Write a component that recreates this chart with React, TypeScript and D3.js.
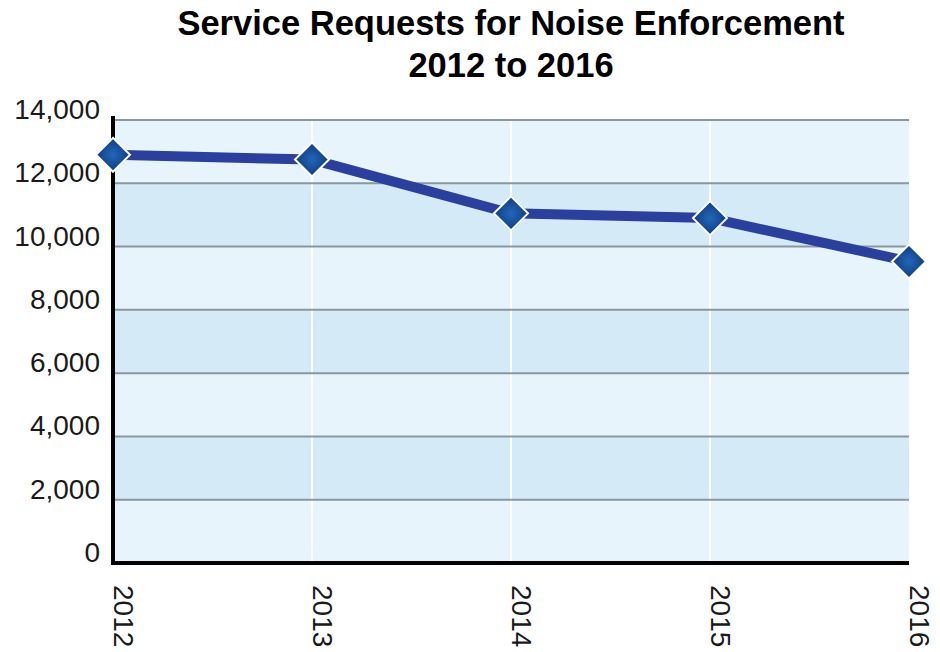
import React, { useEffect, useRef } from 'react';
import * as d3 from 'd3';

const years = ['2012', '2013', '2014', '2015', '2016'];
const requests = [12900, 12750, 11050, 10900, 9530];
const yTicks = [0, 2000, 4000, 6000, 8000, 10000, 12000, 14000];
const titleLines = ['Service Requests for Noise Enforcement', '2012 to 2016'];

const App = () => {
    const svgRef = useRef(null);

    useEffect(() => {
        const svg = d3.select(svgRef.current);
        svg.selectAll('*').remove();

        const width = 940;
        const height = 652;
        const margin = { top: 120, right: 31, bottom: 89, left: 113 };
        const innerWidth = width - margin.left - margin.right;
        const innerHeight = height - margin.top - margin.bottom;
        const font = 'Liberation Sans, Arial, Helvetica, sans-serif';

        const xScale = d3.scalePoint().domain(years).range([0, innerWidth]);
        const yScale = d3.scaleLinear().domain([0, 14000]).range([innerHeight, 0]);

        // 마커 그라데이션
        const defs = svg.append('defs');
        const grad = defs.append('radialGradient').attr('id', 'diamondFill')
            .attr('cx', '50%').attr('cy', '50%').attr('r', '60%');
        grad.append('stop').attr('offset', '0%').attr('stop-color', '#2166b8');
        grad.append('stop').attr('offset', '100%').attr('stop-color', '#0c3578');

        // title
        svg.append('g').selectAll('text')
            .data(titleLines)
            .join('text')
            .attr('x', 511)
            .attr('y', (_, i) => 35 + i * 42)
            .attr('text-anchor', 'middle')
            .attr('font-family', font)
            .attr('font-weight', 'bold')
            .attr('font-size', 34.5)
            .attr('fill', '#000')
            .text(d => d);

        const g = svg.append('g').attr('transform', `translate(${margin.left},${margin.top})`);

        // bands
        const bands = yTicks.slice(0, -1).map((t, i) => [t, yTicks[i + 1]]);
        g.append('g').selectAll('rect')
            .data(bands)
            .join('rect')
            .attr('x', 0)
            .attr('width', innerWidth)
            .attr('y', d => yScale(d[1]))
            .attr('height', d => yScale(d[0]) - yScale(d[1]))
            .attr('fill', (_, i) => (i % 2 === 0 ? '#e7f4fb' : '#d4eaf6'));

        // vertical white lines
        g.append('g').selectAll('line')
            .data(years.slice(1, -1))
            .join('line')
            .attr('x1', d => xScale(d)).attr('x2', d => xScale(d))
            .attr('y1', 0).attr('y2', innerHeight)
            .attr('stroke', '#ffffff')
            .attr('stroke-width', 2);

        // horizontal grid
        g.append('g').selectAll('line')
            .data(yTicks.slice(1))
            .join('line')
            .attr('x1', 0).attr('x2', innerWidth)
            .attr('y1', d => yScale(d)).attr('y2', d => yScale(d))
            .attr('stroke', '#8a979f')
            .attr('stroke-width', 2);

        // y labels
        g.append('g').selectAll('text')
            .data(yTicks)
            .join('text')
            .attr('x', -13)
            .attr('y', d => yScale(d) - 1)
            .attr('text-anchor', 'end')
            .attr('font-family', font)
            .attr('font-size', 28)
            .attr('fill', '#1a1a1a')
            .text(d => d3.format(',')(d));

        // x labels
        g.append('g').selectAll('text')
            .data(years)
            .join('text')
            .attr('transform', d => `translate(${xScale(d) + 1},${innerHeight + 22}) rotate(90)`)
            .attr('text-anchor', 'start')
            .attr('font-family', font)
            .attr('font-size', 28)
            .attr('fill', '#1a1a1a')
            .text(d => d);

        // axes
        g.append('line')
            .attr('x1', 0).attr('x2', 0)
            .attr('y1', -4).attr('y2', innerHeight + 2)
            .attr('stroke', '#000').attr('stroke-width', 4);
        g.append('line')
            .attr('x1', -2).attr('x2', innerWidth)
            .attr('y1', innerHeight).attr('y2', innerHeight)
            .attr('stroke', '#000').attr('stroke-width', 4);

        // line
        const line = d3.line<number>()
            .x((_, i) => xScale(years[i]) as number)
            .y(d => yScale(d));
        g.append('path')
            .datum(requests)
            .attr('fill', 'none')
            .attr('stroke', '#2a3f9e')
            .attr('stroke-width', 10)
            .attr('d', line);

        // markers
        const s = 17;
        g.append('g').selectAll('path')
            .data(requests)
            .join('path')
            .attr('transform', (d, i) => `translate(${xScale(years[i])},${yScale(d)})`)
            .attr('d', `M0,${-s}L${s},0L0,${s}L${-s},0Z`)
            .attr('fill', 'url(#diamondFill)')
            .attr('stroke', '#ffffff')
            .attr('stroke-width', 2);
    }, []);

    return <svg ref={svgRef} width={940} height={652} style={{ display: 'block', position: 'absolute', left: 0, top: 0 }} />;
};

export default App;
